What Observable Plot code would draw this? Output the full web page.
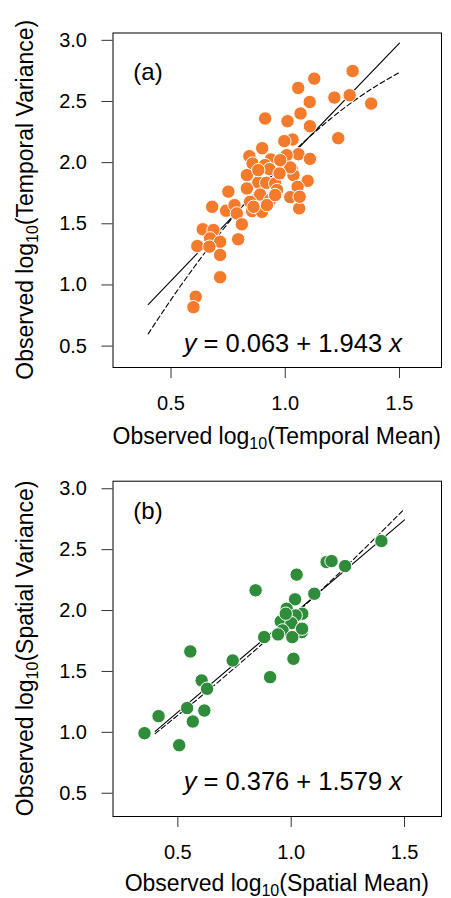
<!DOCTYPE html>
<html><head><meta charset="utf-8">
<script src="https://cdn.jsdelivr.net/npm/d3@7"></script>
<script src="https://cdn.jsdelivr.net/npm/@observablehq/plot@0.6"></script>
<style>body{margin:0;background:#fff} #chart svg{display:block}</style>
</head><body><div id="chart"></div>
<script>
// Panel (a): temporal
const tempMean = [1.295,1.127,1.057,1.215,1.282,1.376,1.107,1.067,0.912,1.010,1.108,1.232,1.032,0.996,0.899,1.058,1.006,1.108,0.843,0.937,0.857,0.911,0.931,1.029,0.832,1.036,1.098,0.882,0.917,0.956,1.054,0.751,0.832,0.890,1.022,0.846,0.934,1.061,0.680,0.741,0.778,0.788,0.855,0.898,0.810,0.639,0.686,0.671,0.715,0.615,0.794,0.668,0.715,0.715,0.608,0.598,1.022,0.964,0.861,0.920,0.975,1.063,0.882,0.978,0.956];
const tempVar  = [2.749,2.687,2.611,2.532,2.551,2.483,2.496,2.402,2.361,2.339,2.298,2.200,2.189,2.176,2.118,2.069,2.061,2.031,2.053,2.026,1.993,1.980,1.947,1.947,1.898,1.898,1.851,1.838,1.835,1.830,1.802,1.763,1.789,1.739,1.718,1.680,1.694,1.626,1.639,1.607,1.653,1.585,1.604,1.598,1.496,1.455,1.449,1.381,1.353,1.318,1.373,1.313,1.245,1.063,0.904,0.818,1.961,1.776,1.639,1.653,1.912,1.721,1.939,2.020,1.735];
const tempLineX = [0.4, 1.5];
const tempLineY = [0.840, 2.978];
const tempCurveX = [0.4,0.5,0.6,0.7,0.8,0.9,1.0,1.1,1.2,1.3,1.4,1.5];
const tempCurveY = [0.600,0.880,1.143,1.389,1.618,1.830,2.024,2.201,2.361,2.504,2.629,2.738];

// Panel (b): spatial
const spatMean = [1.398,1.156,1.178,1.238,1.024,0.843,1.102,1.017,0.980,1.049,1.020,0.954,1.001,0.962,1.046,0.881,1.005,0.942,1.010,0.907,0.742,0.555,0.605,0.629,0.415,0.541,0.617,0.566,0.353,0.506,0.976,1.048];
const spatVar  = [2.571,2.398,2.406,2.365,2.295,2.166,2.138,2.092,2.015,1.974,1.960,1.911,1.897,1.837,1.823,1.782,1.782,1.804,1.604,1.453,1.590,1.664,1.426,1.358,1.133,1.199,1.179,1.089,0.993,0.894,1.974,1.851];
const spatLineX = [0.4, 1.5];
const spatLineY = [1.008, 2.745];
const spatCurveX = [0.4,0.6,0.8,1.0,1.2,1.4,1.5];
const spatCurveY = [0.990,1.292,1.608,1.940,2.287,2.649,2.836];

const xTicks = [0.5, 1.0, 1.5];
const yTicks = [0.5, 1.0, 1.5, 2.0, 2.5, 3.0];

const W = 451, ML = 112.5, MR = 10;
const FONT = "'Liberation Sans', Arial, Helvetica, sans-serif";

function panel(o) {
  const pts = o.x.map((x, i) => ({x, y: o.y[i]}));
  const solid = o.lx.map((x, i) => ({x, y: o.ly[i]}));
  const dashed = o.cx.map((x, i) => ({x, y: o.cy[i]}));
  const H = o.H, MT = o.MT, MB = o.MB;
  const svg = Plot.plot({
    width: W, height: H, marginTop: MT, marginBottom: MB, marginLeft: ML, marginRight: MR,
    style: {fontFamily: FONT, fontSize: "20px", color: "#000", background: "#fff"},
    x: {domain: o.xDomain},
    y: {domain: o.yDomain},
    marks: [
      Plot.axisX({ticks: xTicks, tickSize: 11, tickPadding: 17, tickFormat: d3.format(".1f"), label: null, stroke: "#333"}),
      Plot.axisY({ticks: yTicks, tickSize: 11, tickPadding: 15, tickFormat: d3.format(".1f"), label: null, stroke: "#333"}),
      Plot.line(solid, {x: "x", y: "y", stroke: "#000", strokeWidth: 1.1}),
      Plot.line(dashed, {x: "x", y: "y", stroke: "#000", strokeWidth: 1.1, strokeDasharray: "5,3", curve: "natural"}),
      Plot.dot(pts, {x: "x", y: "y", r: 6.7, fill: o.color, stroke: "#fff", strokeWidth: 1}),
      Plot.frame({stroke: "#000", strokeWidth: 1})
    ]
  });
  const s = d3.select(svg);
  const cx = ML + (W - ML - MR) / 2;
  const cy = MT + (H - MT - MB) / 2;
  // x title
  const xt = s.append("text").attr("x", cx).attr("y", o.xTitleY).attr("text-anchor", "middle")
    .attr("font-size", 23).attr("font-family", FONT).attr("fill", "#000");
  xt.append("tspan").text("Observed log");
  xt.append("tspan").attr("font-size", 16).attr("dy", 5).text("10");
  xt.append("tspan").attr("dy", -5).text(o.xTitle);
  // y title
  const yt = s.append("text").attr("transform", `translate(33,${cy}) rotate(-90)`).attr("text-anchor", "middle")
    .attr("font-size", 23).attr("font-family", FONT).attr("fill", "#000");
  yt.append("tspan").text("Observed log");
  yt.append("tspan").attr("font-size", 16).attr("dy", 5).text("10");
  yt.append("tspan").attr("dy", -5).text(o.yTitle);
  // panel label
  s.append("text").attr("x", 148).attr("y", o.labY).attr("font-size", 24).attr("font-family", FONT)
    .attr("fill", "#000").text(o.label);
  // equation
  const eq = s.append("text").attr("x", 402).attr("y", o.eqY).attr("text-anchor", "end")
    .attr("font-size", 25.5).attr("font-family", FONT).attr("fill", "#000");
  eq.append("tspan").attr("font-style", "italic").text("y");
  eq.append("tspan").text(" = " + o.eq + " ");
  eq.append("tspan").attr("font-style", "italic").text("x");
  return svg;
}

const chart = document.getElementById("chart");
chart.appendChild(panel({
  H: 455, MT: 32.5, MB: 88,
  x: tempMean, y: tempVar, lx: tempLineX, ly: tempLineY, cx: tempCurveX, cy: tempCurveY,
  xDomain: [0.246, 1.684], yDomain: [0.325, 3.06], color: "#F47A2C",
  xTitle: "(Temporal Mean)", yTitle: "(Temporal Variance)", label: "(a)", labY: 80,
  eq: "0.063 + 1.943", eqY: 352, xTitleY: 444
}));
chart.appendChild(panel({
  H: 443, MT: 25.7, MB: 82,
  x: spatMean, y: spatVar, lx: spatLineX, ly: spatLineY, cx: spatCurveX, cy: spatCurveY,
  xDomain: [0.214, 1.663], yDomain: [0.309, 3.062], color: "#2E8C3A",
  xTitle: "(Spatial Mean)", yTitle: "(Spatial Variance)", label: "(b)", labY: 64,
  eq: "0.376 + 1.579", eqY: 335, xTitleY: 436
}));
</script></body></html>
